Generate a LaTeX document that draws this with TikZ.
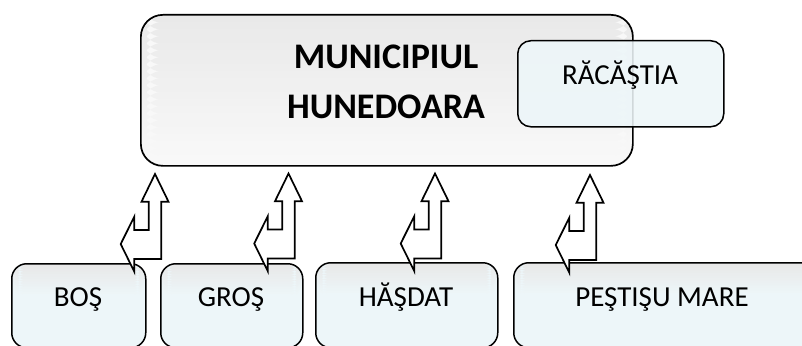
\documentclass[tikz,border=0pt]{standalone}
\usepackage{fontspec}
\setmainfont{Carlito}
\definecolor{boxtop}{HTML}{E8E8E8}
\definecolor{boxcyan}{HTML}{EDF6F9}
\definecolor{maintop}{HTML}{E9E9E9}
\definecolor{mainbot}{HTML}{F8F8F8}
\tikzset{
  stripes/.style n args={4}{path picture={
    \foreach \i in {0,...,#3}{
      \pgfmathtruncatemacro\p{100*\i/#3}
      \fill[#2!\p!#1] ([yshift=-#4*\i]path picture bounding box.north west)
        rectangle ([yshift=-#4*\i-#4-1pt]path picture bounding box.north east);
    }}},
  mainbox/.style={draw=black, line width=1.7pt, rounded corners=22pt,
    fill=mainbot, inner sep=0pt, stripes={maintop}{mainbot}{20}{7pt}},
  racbox/.style={draw=black, line width=1.5pt, rounded corners=13pt,
    fill=boxcyan, fill opacity=0.88, inner sep=0pt},
  botbox/.style={draw=black, line width=1.5pt, rounded corners=15pt,
    fill=boxcyan, inner sep=0pt, stripes={boxtop}{boxcyan}{12}{2.5pt}},
  lbl/.style={font=\fontsize{29}{35}\selectfont, inner sep=0pt, anchor=base},
  bold/.style={font=\fontsize{36}{50}\selectfont\bfseries, inner sep=0pt, anchor=base},
  arrowshape/.style={draw=black, fill=white, line width=1.7pt, line join=miter},
  bentarrow/.pic={
    \path[arrowshape] (0,0) -- (13.5,27.7) -- (6.3,27.7) -- (6.3,85) -- (-20.7,85)
      -- (-20.7,97.7) -- (-34.3,70) -- (-20.7,42.7) -- (-20.7,56) -- (-6.3,56)
      -- (-6.3,27.7) -- (-13.5,27.7) -- cycle;
  }
}
\begin{document}
\begin{tikzpicture}[x=1pt, y=-1pt]
\path[use as bounding box, clip] (0,0) rectangle (802,345);
\fill[white] (0,0) rectangle (802,345);
% main box
\node[mainbox, minimum width=492pt, minimum height=151pt, anchor=north west] (main) at (140,14) {};
\node[bold] (t1) at (386,68) {MUNICIPIUL};
\node[bold] (t2) at (386,118) {HUNEDOARA};
% racastia
\node[racbox, minimum width=206pt, minimum height=86pt, anchor=north west] (rac) at (517,40) {};
\node[lbl] (racl) at (620,84) {RĂCĂŞTIA};
% bottom boxes
\node[botbox, minimum width=134pt, minimum height=84pt, anchor=north west] (bos) at (11,263) {};
\node[botbox, minimum width=142pt, minimum height=84pt, anchor=north west] (gros) at (160,263) {};
\node[botbox, minimum width=182pt, minimum height=85pt, anchor=north west] (hasdat) at (315,262) {};
\node[botbox, minimum width=310pt, minimum height=85pt, anchor=north west] (pestisu) at (513,262) {};
\node[lbl] (bosl) at (78,306) {BOŞ};
\node[lbl] (grosl) at (231,306) {GROŞ};
\node[lbl] (hasdatl) at (406,306) {HĂŞDAT};
\node[lbl] (pestisul) at (662,306) {PEŞTIŞU MARE};
% bent arrows
\pic at (155,174) {bentarrow};
\pic at (288.5,173.5) {bentarrow};
\pic at (435,173.5) {bentarrow};
\pic at (590,175) {bentarrow};
\end{tikzpicture}
\end{document}
